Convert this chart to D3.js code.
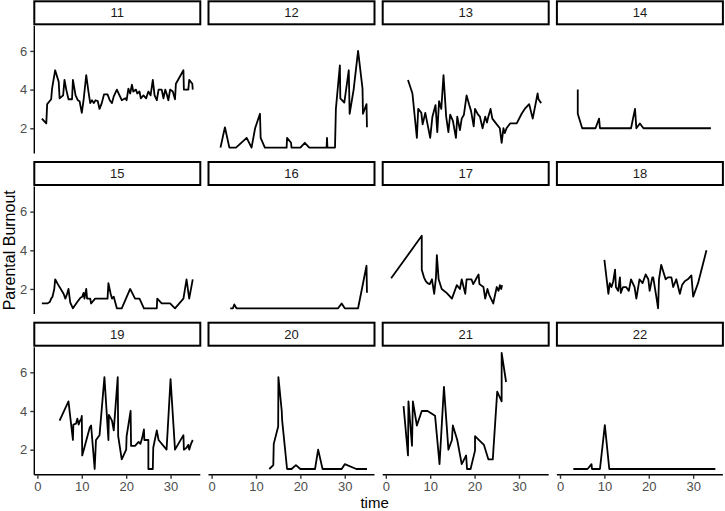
<!DOCTYPE html>
<html>
<head>
<meta charset="utf-8">
<script src="https://cdn.jsdelivr.net/npm/d3@7"></script>
<style>
  body { margin: 0; background: #fff; }
  svg { display: block; }
  text { font-family: "Liberation Sans", Arial, sans-serif; }
</style>
</head>
<body>
<svg id="chart" width="725" height="511"></svg>
<script>
"use strict"

// facet ids, one per panel
const panelIds = ["11", "12", "13", "14", "15", "16", "17", "18", "19", "20", "21", "22"]

// [time, burnout] per participant
const p11 = [[1,2.5],[2,2.25],[2.2,3.25],[3.1,3.5],[3.3,4.05],[4,5],[4.8,4.4],[5,3.55],[5.8,3.7],[6.1,4.5],[6.5,4],[7,3.5],[7.8,3.5],[8,4.5],[8.6,3.7],[9.1,3.45],[9.5,3.4],[10,2.8],[10.4,3.45],[11,4.75],[11.5,3.9],[11.9,3.3],[12.3,3.45],[12.7,3.3],[13.1,3.45],[13.6,3.4],[14,3],[14.5,3.3],[15,3.75],[15.8,3.75],[16.3,3.45],[16.8,3.3],[17.2,3.65],[17.9,4],[18.5,3.7],[19,3.45],[19.8,3.55],[20.1,3.45],[20.5,4.05],[20.9,3.8],[21.3,4.25],[21.6,3.9],[22.2,4],[22.5,3.8],[23,3.9],[23.3,3.55],[23.9,3.7],[24.5,3.55],[25,3.9],[25.5,3.7],[26,4.5],[26.4,3.7],[26.9,3.45],[27.3,4],[28,4],[28.4,3.55],[28.8,4],[29.1,3.8],[29.5,3.45],[29.9,4],[30.5,3.9],[31,3.5],[31.2,4.3],[32.9,5],[33,4],[34,4],[34.2,4.5],[34.9,4.3],[35,4]]
const p12 = [[2,1],[3,2.05],[4,1],[5.5,1],[7.9,1.5],[9,1],[9.8,2],[10.9,2.75],[11.05,1.5],[12,1],[16.9,1],[17,1.5],[17.9,1.25],[18,1],[20,1],[21,1.25],[22,1],[25.9,1],[26,1.5],[26.1,1],[27.8,1],[28,3],[28.9,5.25],[29,3.55],[29.9,3.33],[30.9,5],[31.1,2.75],[32,4],[33,6],[34,4.05],[34.1,2.75],[34.9,3.25],[35,2.05]]
const p13 = [[5,4.5],[6,3.8],[7,1.5],[7.3,3],[8,2.8],[8.3,2.2],[8.9,2.8],[10,1.5],[10.5,2.6],[11.2,3.2],[11.6,1.8],[12,3.4],[12.5,3],[13,4.75],[13.6,2.6],[14.1,1.8],[14.5,2.7],[15.1,2.4],[15.8,1.5],[16.1,2.6],[16.7,1.9],[17.1,2.5],[17.6,2.7],[18.2,3.7],[18.8,3.2],[19.2,2.9],[19.8,2.1],[20.1,3],[20.8,2.7],[21.2,2.6],[21.8,2],[22.4,2.6],[22.8,2.3],[23.1,2.6],[23.6,3],[24,2.5],[25,2.2],[25.7,2],[26.1,1.25],[26.5,2],[26.8,1.75],[27.2,2],[28,2.25],[29.5,2.25],[30.6,2.75],[31.3,3],[32.3,3.25],[33.1,2.5],[34.2,3.8],[34.4,3.5],[35,3.3]]
const p14 = [[4,4],[4,2.75],[5,2],[8,2],[8.8,2.5],[9,2],[16,2],[16.9,3],[17.2,2],[18,2.25],[18.8,2],[34,2]]
const p15 = [[1,1.25],[2.2,1.25],[2.8,1.33],[3.1,1.5],[3.4,1.6],[3.8,2],[4,2.5],[4.6,2.25],[5.9,1.75],[6.3,1.5],[6.7,1.75],[7,2],[7.4,1.3],[8,1],[8.9,1.3],[9.7,1.55],[10.1,1.6],[10.4,1.8],[10.6,1.5],[11,2],[11.2,1.5],[11.9,1.5],[12.1,1.25],[13,1.5],[15.8,1.5],[16,2.3],[16.5,1.75],[16.8,1.5],[17.2,1.6],[17.9,1],[19,1],[20.9,2],[22,1.5],[23,1.5],[24,1],[26.9,1],[27,1.5],[28,1.25],[29.9,1.25],[31,1],[32.9,1.5],[33.6,2.5],[34.2,1.5],[35,2.5]]
const p16 = [[4.2,1],[4.8,1],[5.1,1.2],[5.6,1],[28.5,1],[29.3,1.25],[30,1],[33,1],[34.9,3.2],[35,1.8]]
const p17 = [[1.2,2.55],[8.1,4.75],[8.1,3],[8.6,2.6],[9,2.4],[9.4,2.3],[9.9,2.25],[10.4,2.5],[10.9,1.75],[11.3,2.6],[11.5,3.75],[11.9,2.5],[12.6,2],[13.7,1.8],[14.9,1.5],[16,2.2],[16.7,2],[17.1,2.5],[17.9,1.75],[18.2,2.5],[19.3,2.5],[19.7,2.25],[20.3,2.5],[20.9,2.75],[21.1,2.25],[22,2.1],[22.4,1.5],[22.9,2],[23.3,1.7],[24.2,1.25],[25,2.1],[25.4,1.9],[25.7,2.2],[26,2],[26.2,2.2]]
const p18 = [[10,3.5],[10.9,1.75],[11.2,2.3],[11.6,2.1],[12,2.4],[12.4,3],[12.6,2.1],[13.1,1.9],[13.5,2.6],[13.7,1.8],[14.2,2.1],[14.9,2.1],[15.5,1.9],[16,2.5],[16.8,2.1],[17.2,1.5],[17.9,2.5],[18.6,2.3],[19.3,2.75],[19.9,2.5],[20.2,1.9],[20.8,2.6],[21,2.6],[21.7,1.6],[22.1,1],[22.3,2.5],[22.8,3.25],[23.4,2.8],[23.8,2.5],[24.3,2.6],[25.1,2.6],[25.5,2.1],[26.2,2.5],[27,1.75],[27.5,2.2],[28.1,2.4],[28.8,2.5],[29.6,2.7],[30,1.6],[31.1,2.3],[33,4]]
const p19 = [[5,3.5],[7,4.5],[8,2.5],[8.1,3.3],[8.7,3.35],[9,3.6],[9.3,3.3],[9.6,3.5],[9.9,3.6],[10,3.75],[10.1,1.7],[11.8,3.15],[12.1,3.25],[12.9,1],[13.2,2.5],[14,2.75],[15.1,5.75],[16,2.5],[16.1,3.8],[16.8,3.5],[17.2,3],[18.1,5.75],[18.2,2.7],[19,1.5],[20,2],[20.1,2.7],[21,4],[21.1,2.2],[22,2.2],[22.8,2.4],[23.2,2.3],[23.6,2.6],[24,3.05],[24.1,2.5],[25,2.5],[25,1],[26,1],[26.1,2.1],[26.9,3],[27.3,2.5],[29.1,2],[30,5.65],[31,2],[32.9,2.75],[33,2],[33.6,2.1],[34,2.25],[34.2,2],[34.6,2.3],[35,2.5]]
const p20 = [[13,1],[13.9,1.2],[14,2.3],[15,3.2],[15.05,5.75],[15.8,4],[15.9,3.5],[17,1],[18,1],[19,1.2],[20,1],[23.3,1],[24,2],[25,1],[29.3,1],[30,1.25],[32.6,1],[35,1]]
const p21 = [[4,4.25],[5,1.7],[5.1,4.5],[5.9,2.2],[6.1,4.5],[7,3.25],[8.1,4],[9.4,4],[11.1,3.75],[12.1,1.25],[13.1,5.25],[14.1,2],[14.9,2.5],[15.1,3.25],[16.1,2.5],[17.1,1.25],[18.1,1.7],[18.3,1],[19.1,1],[20.1,1.95],[20.1,2.7],[22.1,2.25],[23.1,1.5],[24.1,1.5],[25.1,5],[26.1,4.5],[26.1,7],[27.1,5.5]]
const p22 = [[3,1],[6.2,1],[7.1,1.25],[7.2,1],[9,1],[10.1,3.27],[11.1,1],[35,1]]

const xTicks = [0, 10, 20, 30]
const yTicks = [2, 4, 6]

const series = [p11, p12, p13, p14, p15, p16, p17, p18, p19, p20, p21, p22]

const svg = d3.select("#chart")

// layout (pixels)
const padLeft = 34.3, padTop = 25.8
const pw = 166, ph = 127.6
const stepX = 174.2, stepY = 160.7
const stripH = 23
const nCol = 4, nRow = 3

// ggplot-style 5% expansion around data range 1..35 and 1..7
const x = d3.scaleLinear().domain([1 - 1.7, 35 + 1.7]).range([0, pw])
const y = d3.scaleLinear().domain([1 - 0.3, 7 + 0.3]).range([ph, 0])

const line = d3.line().x(d => x(d[0])).y(d => y(d[1]))

panelIds.forEach((id, i) => {
    const col = i % nCol, row = Math.floor(i / nCol)
    const g = svg.append("g")
        .attr("transform", `translate(${padLeft + col * stepX},${padTop + row * stepY})`)

    // strip
    g.append("rect")
        .attr("x", 0).attr("y", -stripH - 1.5)
        .attr("width", pw).attr("height", stripH)
        .attr("fill", "#fff").attr("stroke", "#000").attr("stroke-width", 2)
    g.append("text")
        .attr("x", pw / 2).attr("y", -stripH / 2 - 1.5)
        .attr("dy", "0.35em")
        .attr("text-anchor", "middle")
        .attr("font-size", 13)
        .attr("fill", "#1a1a1a")
        .text(id)

    g.append("path")
        .datum(series[i])
        .attr("d", line)
        .attr("fill", "none")
        .attr("stroke", "#000")
        .attr("stroke-width", 1.8)
        .attr("stroke-linejoin", "round")

    if (col === 0) {
        const ax = g.append("g")
            .call(d3.axisLeft(y).tickValues(yTicks).tickFormat(d3.format("d")).tickSize(4).tickPadding(3))
        ax.select(".domain").attr("stroke", "#000").attr("stroke-width", 1.4)
            .attr("d", `M0,${ph}V0`)
        ax.selectAll(".tick line").attr("stroke", "#333").attr("stroke-width", 1.4)
        ax.selectAll(".tick text").attr("font-size", 13).attr("fill", "#4d4d4d")
            .attr("font-family", "Liberation Sans, Arial, sans-serif")
    }
    if (row === nRow - 1) {
        const ax = g.append("g").attr("transform", `translate(0,${ph})`)
            .call(d3.axisBottom(x).tickValues(xTicks).tickFormat(d3.format("d")).tickSize(4).tickPadding(3))
        ax.select(".domain").attr("stroke", "#000").attr("stroke-width", 1.4)
            .attr("d", `M0,0H${pw}`)
        ax.selectAll(".tick line").attr("stroke", "#333").attr("stroke-width", 1.4)
        ax.selectAll(".tick text").attr("font-size", 13).attr("fill", "#4d4d4d")
            .attr("font-family", "Liberation Sans, Arial, sans-serif")
    }
})

// axis titles
svg.append("text")
    .attr("transform", `translate(15,${padTop + (2 * stepY + ph) / 2}) rotate(-90)`)
    .attr("text-anchor", "middle")
    .attr("font-size", 16)
    .attr("fill", "#000")
    .text("Parental Burnout")

svg.append("text")
    .attr("x", padLeft + (3 * stepX + pw) / 2 - 4)
    .attr("y", 508)
    .attr("text-anchor", "middle")
    .attr("font-size", 15)
    .attr("fill", "#000")
    .text("time")
</script>
</body>
</html>
